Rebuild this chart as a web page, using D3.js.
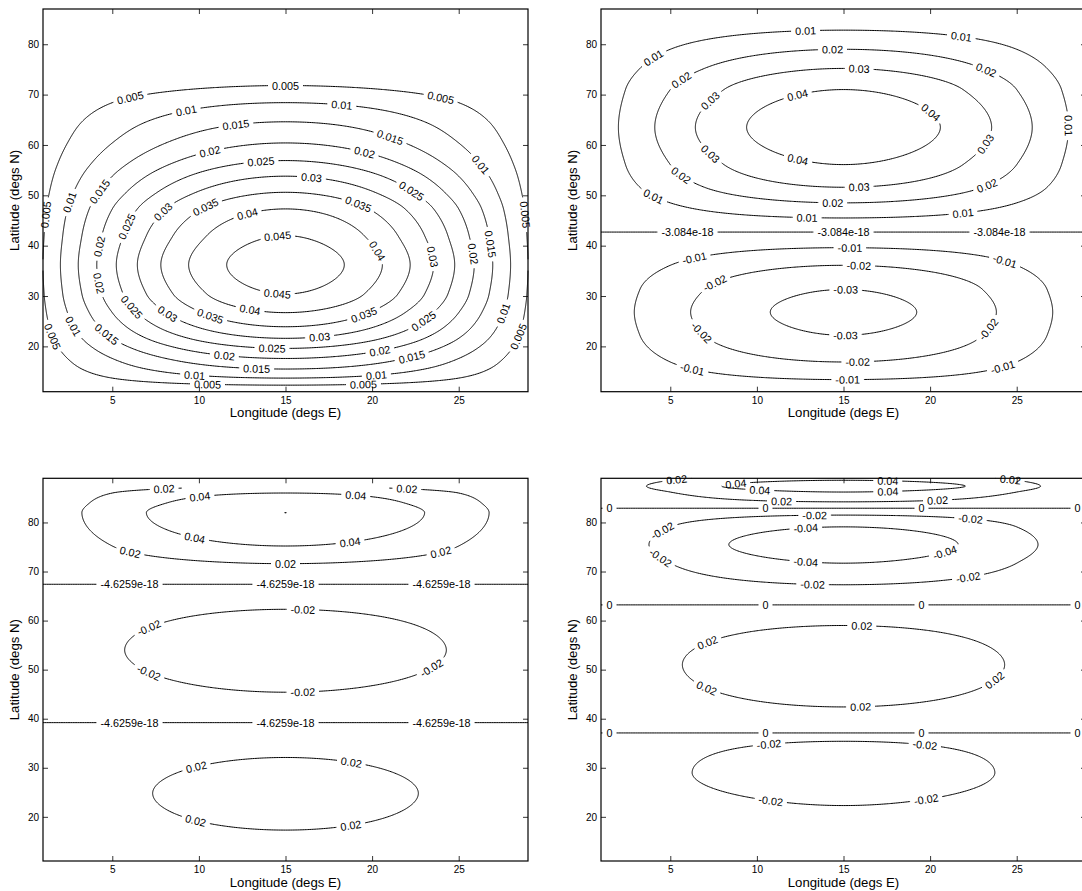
<!DOCTYPE html>
<html>
<head>
<meta charset="utf-8">
<script src="https://cdn.jsdelivr.net/npm/d3@7"></script>
<style>
  body { margin: 0; background: #fff; }
  text { font-family: "Liberation Sans", Arial, Helvetica, sans-serif; fill: #000; }
</style>
</head>
<body>
<svg id="chart" width="1082" height="891"></svg>
<script>
// ---- data ----
const lonTicks = [5, 10, 15, 20, 25];
const latTicks = [20, 30, 40, 50, 60, 70, 80];
const lonExtent = [1, 29];
const lonNodes = [0, 30];           // zonal structure vanishes here

// top left
const levelsA = [0.005, 0.01, 0.015, 0.02, 0.025, 0.03, 0.035, 0.04, 0.045];
const labelsA = ["0.005", "0.01", "0.015", "0.02", "0.025", "0.03", "0.035", "0.04", "0.045"];
const knotLatA = [11, 12.3, 13.7, 15.5, 17.6, 19.6, 21.6, 23.9, 26.7, 30.4, 36.2, 42.0, 47.3, 50.6, 53.8, 56.9, 60.4, 64.6, 68.4, 71.8, 76, 81, 87];
const knotValA = [0.0003, 0.005, 0.01, 0.015, 0.02, 0.025, 0.03, 0.035, 0.04, 0.045, 0.048, 0.045, 0.04, 0.035, 0.03, 0.025, 0.02, 0.015, 0.01, 0.005, 0.0012, 0.0003, 0.0001];

// top right
const levelsB = [-0.03, -0.02, -0.01, -3.084e-18, 0.01, 0.02, 0.03, 0.04];
const labelsB = ["-0.03", "-0.02", "-0.01", "-3.084e-18", "0.01", "0.02", "0.03", "0.04"];
const knotLatB = [11, 13.4, 16.9, 22.2, 26.8, 31.3, 36.1, 39.6, 42.7, 45.5, 48.5, 51.6, 56.1, 63.5, 71.0, 75.2, 79.0, 82.8, 87];
const knotValB = [-0.0015, -0.01, -0.02, -0.03, -0.0332, -0.03, -0.02, -0.01, 0, 0.01, 0.02, 0.03, 0.04, 0.048, 0.04, 0.03, 0.02, 0.01, 0.0005];

// bottom left
const levelsC = [-0.02, -4.6259e-18, 0.02, 0.04, 0.06];
const labelsC = ["-0.02", "-4.6259e-18", "0.02", "0.04", "0.06"];
const knotLatC = [11, 14, 17.3, 24.8, 32.1, 35.6, 39.2, 42.5, 45.4, 54.0, 62.3, 64.8, 67.4, 69.4, 71.6, 75.2, 82, 84, 86, 87];
const knotValC = [0.0016, 0.0106, 0.02, 0.0288, 0.02, 0.0106, 0, -0.0125, -0.02, -0.0355, -0.02, -0.011, 0, 0.01, 0.02, 0.04, 0.0600015, 0.053, 0.04, 0.0247];

// bottom right
const levelsD = [-0.04, -0.02, 0, 0.02, 0.04];
const labelsD = ["-0.04", "-0.02", "0", "0.02", "0.04"];
const knotLatD = [11, 16, 22.3, 29, 35.4, 37.1, 42.4, 51, 59, 63.2, 67.3, 71.7, 75.5, 79.1, 81.5, 82.9, 84.2, 86.2, 87.4, 88.6, 89];
const knotValD = [-0.0006, -0.008, -0.02, -0.0328, -0.02, 0, 0.02, 0.0356, 0.02, 0, -0.02, -0.04, -0.052, -0.04, -0.02, 0, 0.02, 0.04, 0.054, 0.04, 0.033];

const axisLat = [[11, 87], [11, 87], [11, 89], [11, 89]];
const gridLat = [[11, 87], [11, 87], [11, 87], [11, 89]];

// ---- layout ----
const frames = [
  { left: 43, top: 9 }, { left: 601, top: 9 },
  { left: 43, top: 478.3 }, { left: 601, top: 478.3 }
];
const frameW = 485, frameH = 382.7;
const step = 0.1;
const labelPitch = 156;
const labelPad = 4;
const labelSize = 10.8;
const bendTol = 1.3;    // px a label may deviate from its chord

const panels = [
  { levels: levelsA, labels: labelsA, kLat: knotLatA, kVal: knotValA },
  { levels: levelsB, labels: labelsB, kLat: knotLatB, kVal: knotValB },
  { levels: levelsC, labels: labelsC, kLat: knotLatC, kVal: knotValC },
  { levels: levelsD, labels: labelsD, kLat: knotLatD, kVal: knotValD }
];

const svg = d3.select("#chart");

// monotone cubic through the read-off knots
function pchip(xs, ys) {
  const n = xs.length, h = [], d = [], m = new Array(n);
  for (let k = 0; k < n - 1; k++) { h[k] = xs[k + 1] - xs[k]; d[k] = (ys[k + 1] - ys[k]) / h[k]; }
  m[0] = d[0]; m[n - 1] = d[n - 2];
  for (let k = 1; k < n - 1; k++) {
    if (d[k - 1] * d[k] <= 0) m[k] = 0;
    else {
      const w1 = 2 * h[k] + h[k - 1], w2 = h[k] + 2 * h[k - 1];
      m[k] = (w1 + w2) / (w1 / d[k - 1] + w2 / d[k]);
    }
  }
  return function(x) {
    const k = Math.min(n - 2, Math.max(0, d3.bisectRight(xs, x) - 1));
    const t = (x - xs[k]) / h[k], t2 = t * t, t3 = t2 * t;
    return (2 * t3 - 3 * t2 + 1) * ys[k] + (t3 - 2 * t2 + t) * h[k] * m[k] +
           (-2 * t3 + 3 * t2) * ys[k + 1] + (t3 - t2) * h[k] * m[k + 1];
  };
}

// hidden text used to measure label widths
const meas = svg.append("text").attr("font-size", labelSize).attr("visibility", "hidden");
function textWidth(s) { meas.text(s); return meas.node().getComputedTextLength(); }

function drawLabelledLine(lg, tg, pts, label, placed) {
  const cum = [0];
  for (let i = 1; i < pts.length; i++) {
    cum.push(cum[i - 1] + Math.hypot(pts[i][0] - pts[i - 1][0], pts[i][1] - pts[i - 1][1]));
  }
  const L = cum[cum.length - 1];
  const line = d3.line();
  const w = textWidth(label);
  const at = s => {
    const i = Math.min(pts.length - 2, Math.max(0, d3.bisectRight(cum, s) - 1));
    const seg = cum[i + 1] - cum[i] || 1;
    const t = Math.max(0, Math.min(1, (s - cum[i]) / seg));
    return [pts[i][0] + t * (pts[i + 1][0] - pts[i][0]), pts[i][1] + t * (pts[i + 1][1] - pts[i][1])];
  };
  if (L < w + 2 * labelPad + 10) {
    lg.append("path").attr("d", line(pts));
    return;
  }
  // usable spot: line straight under the label and clear of other labels
  const usable = c => {
    const a = c - w / 2, b = c + w / 2;
    if (a < labelPad || b > L - labelPad) return false;
    const p0 = at(a), p1 = at(b), pc = at(c);
    const dx = p1[0] - p0[0], dy = p1[1] - p0[1], len = Math.hypot(dx, dy) || 1;
    let dev = 0;
    for (let i = 0; i < pts.length; i++) {
      if (cum[i] <= a || cum[i] >= b) continue;
      dev = Math.max(dev, Math.abs((pts[i][0] - p0[0]) * dy - (pts[i][1] - p0[1]) * dx) / len);
    }
    if (dev >= bendTol) return false;
    return placed.every(q => Math.abs(q.x - pc[0]) > (q.w + w) / 2 + 2 || Math.abs(q.y - pc[1]) > 9);
  };
  // labels at a fixed pitch, centred on the line, nudged off tight bends
  const n = Math.floor((L - w) / labelPitch) + 1;
  const centers = [];
  d3.range(n).forEach(k => {
    const c0 = L / 2 + (k - (n - 1) / 2) * labelPitch;
    for (let d = 0; d <= 70; d += 2) {
      for (const c of d ? [c0 + d, c0 - d] : [c0]) {
        if (usable(c)) {
          const pc = at(c);
          placed.push({ x: pc[0], y: pc[1], w: w });
          centers.push(c);
          return;
        }
      }
    }
  });
  centers.sort((a, b) => a - b);
  const gaps = centers.map(c => [c - w / 2 - labelPad, c + w / 2 + labelPad]);
  let a = 0;
  const pieces = [];
  gaps.forEach(gp => { if (gp[0] > a) pieces.push([a, gp[0]]); a = Math.max(a, gp[1]); });
  if (a < L) pieces.push([a, L]);
  pieces.forEach(([s0, s1]) => {
    const seg = [at(s0)];
    for (let i = 0; i < pts.length; i++) if (cum[i] > s0 && cum[i] < s1) seg.push(pts[i]);
    seg.push(at(s1));
    lg.append("path").attr("d", line(seg));
  });
  centers.forEach(c => {
    const p = at(c), p0 = at(c - w / 2), p1 = at(c + w / 2);
    let ang = Math.atan2(p1[1] - p0[1], p1[0] - p0[0]) * 180 / Math.PI;
    if (ang > 90) ang -= 180;
    if (ang < -90) ang += 180;
    tg.append("text")
      .attr("transform", `translate(${p[0]},${p[1]}) rotate(${ang})`)
      .attr("text-anchor", "middle")
      .attr("dominant-baseline", "central")
      .attr("font-size", labelSize)
      .text(label);
  });
}

panels.forEach((p, idx) => {
  const f = frames[idx];
  const x = d3.scaleLinear().domain(lonExtent).range([f.left, f.left + frameW]);
  const y = d3.scaleLinear().domain(axisLat[idx]).range([f.top + frameH, f.top]);
  const g = svg.append("g");

  // field on a fine grid: zonal sine times the meridional profile
  const prof = pchip(p.kLat, p.kVal);
  const lat0 = gridLat[idx][0], lat1 = gridLat[idx][1];
  const nx = Math.round((lonExtent[1] - lonExtent[0]) / step) + 1;
  const ny = Math.round((lat1 - lat0) / step) + 1;
  const zon = d3.range(nx).map(i => {
    const lon = lonExtent[0] + i * step;
    return Math.sin(Math.PI * (lon - lonNodes[0]) / (lonNodes[1] - lonNodes[0]));
  });
  const mer = d3.range(ny).map(j => prof(lat0 + j * step));
  const values = new Float64Array(nx * ny);
  for (let j = 0; j < ny; j++) for (let i = 0; i < nx; i++) values[j * nx + i] = zon[i] * mer[j];

  const contours = d3.contours().size([nx, ny]).smooth(true).thresholds(p.levels)(values);

  const lg = g.append("g").attr("fill", "none").attr("stroke", "#000").attr("stroke-width", 1);
  const tg = g.append("g");
  const placed = [];
  const toPx = c => {
    const lon = Math.max(lonExtent[0], Math.min(lonExtent[1], lonExtent[0] + (c[0] - 0.5) * step));
    const lat = Math.max(lat0, Math.min(lat1, lat0 + (c[1] - 0.5) * step));
    return [x(lon), y(lat)];
  };
  const onBorder = c => c[0] <= 0 || c[0] >= nx || c[1] <= 0 || c[1] >= ny;

  contours.forEach(ct => {
    const label = p.labels[p.levels.indexOf(ct.value)];
    ct.coordinates.forEach(poly => poly.forEach(ring => {
      const pts = ring.slice(0, -1);
      const k = pts.findIndex(onBorder);
      if (k < 0) {
        // closed loop: start at leftmost point, run clockwise on screen
        let px = pts.map(toPx);
        const lm = d3.minIndex(px, d => d[0]);
        px = px.slice(lm).concat(px.slice(0, lm));
        const ahead = px[Math.min(3, px.length - 1)], behind = px[Math.max(px.length - 3, 0)];
        if (ahead[1] > behind[1]) px = [px[0]].concat(px.slice(1).reverse());
        px.push(px[0]);
        drawLabelledLine(lg, tg, px, label, placed);
        return;
      }
      const rot = pts.slice(k).concat(pts.slice(0, k));
      let cur = [];
      const runs = [];
      rot.forEach(c => {
        if (onBorder(c)) { if (cur.length > 1) runs.push(cur); cur = []; }
        else cur.push(c);
      });
      if (cur.length > 1) runs.push(cur);
      runs.forEach(r => {
        let px = r.map(toPx);
        if (px[0][0] > px[px.length - 1][0]) px = px.reverse();
        drawLabelledLine(lg, tg, px, label, placed);
      });
    }));
  });

  // axes: ticks inward on all four sides
  const ax = g.append("g").attr("font-size", 10);
  ax.append("g").attr("transform", `translate(0,${f.top + frameH})`)
    .call(d3.axisBottom(x).tickValues(lonTicks).tickSizeInner(-5).tickSizeOuter(0).tickPadding(5));
  ax.append("g").attr("transform", `translate(0,${f.top})`)
    .call(d3.axisTop(x).tickValues(lonTicks).tickSizeInner(-5).tickSizeOuter(0).tickFormat(""));
  ax.append("g").attr("transform", `translate(${f.left},0)`)
    .call(d3.axisLeft(y).tickValues(latTicks).tickSizeInner(-5).tickSizeOuter(0).tickPadding(4));
  ax.append("g").attr("transform", `translate(${f.left + frameW},0)`)
    .call(d3.axisRight(y).tickValues(latTicks).tickSizeInner(-5).tickSizeOuter(0).tickFormat(""));
  ax.selectAll(".domain").remove();
  ax.selectAll(".tick line").attr("stroke", "#000").attr("stroke-width", 0.8);
  ax.selectAll("text").attr("font-family", '"Liberation Sans", Arial, sans-serif').attr("fill", "#000");
  g.append("rect")
    .attr("x", f.left).attr("y", f.top).attr("width", frameW).attr("height", frameH)
    .attr("fill", "none").attr("stroke", "#000").attr("stroke-width", 1.2);

  g.append("text")
    .attr("x", f.left + frameW / 2).attr("y", f.top + frameH + 25.5)
    .attr("text-anchor", "middle").attr("font-size", 13.2)
    .text("Longitude (degs E)");
  g.append("text")
    .attr("transform", `translate(${f.left - 24},${f.top + frameH / 2}) rotate(-90)`)
    .attr("text-anchor", "middle").attr("font-size", 13.2)
    .text("Latitude (degs N)");
});
meas.remove();
</script>
</body>
</html>
